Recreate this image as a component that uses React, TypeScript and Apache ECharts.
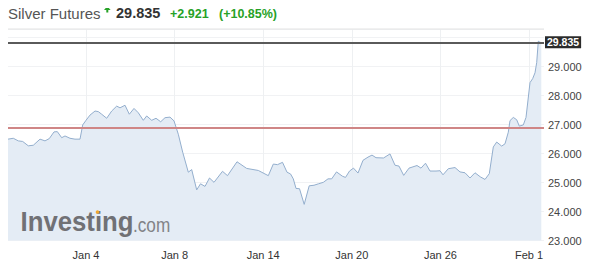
import React, { useEffect, useRef } from "react";
import * as echarts from "echarts";

// x positions in trading-day units (Jan 4 = 4, Jan 8 = 8, ... Feb 1 = 24)
const PX0 = 86;
const PX_PER_DAY = 22.15;
// traced x positions and prices
const tracePx = [
  8, 13.3, 18.3, 22.7, 28.3, 33.3, 40, 45, 49.3, 54, 57.3, 61.7, 65, 70, 75, 80, 82.7, 86, 90, 95,
  98.3, 101.7, 106.7, 111.7, 116.7, 120, 125, 129.3, 134, 138.3, 143.3, 146.7, 151.7, 156, 160.7, 165,
  170, 174, 178.3, 182.7, 188.3, 191.7, 196.7, 200.5, 205, 209.5, 214, 222.5, 227.5, 237, 246.7, 258.3,
  268.3, 273.3, 277.5, 282.5, 287, 290.5, 293.3, 296, 299.5, 304.2, 309.2, 314, 318.5, 323.3, 328,
  331.7, 336.5, 342.5, 345.5, 349.5, 353.5, 358, 363, 368, 372, 376, 383.5, 390, 395, 399, 403.7, 409,
  417, 421, 425.5, 430, 436, 440, 443, 448.3, 455, 460, 465, 470, 475, 480.3, 485, 489.3, 493.3, 496.7,
  501.7, 505, 508.3, 510, 513.3, 516.7, 519.3, 523.3, 526, 530, 532.7, 535, 536.7, 538.3, 540, 541.3,
];
const prices = [
  26.5, 26.53, 26.44, 26.42, 26.27, 26.29, 26.5, 26.44, 26.52, 26.75, 26.76, 26.55, 26.61, 26.53, 26.5,
  26.5, 26.99, 27.15, 27.33, 27.47, 27.45, 27.36, 27.22, 27.47, 27.64, 27.58, 27.67, 27.36, 27.56, 27.41,
  27.15, 27.3, 27.15, 27.22, 27.1, 27.24, 27.26, 27.13, 26.67, 26.05, 25.36, 25.45, 24.75, 24.96, 24.87,
  25.16, 25.01, 25.39, 25.24, 25.72, 25.49, 25.42, 25.24, 25.64, 25.62, 25.7, 25.36, 25.3, 25.13, 24.8,
  24.79, 24.25, 24.89, 24.91, 24.96, 25.01, 25.13, 25.13, 25.37, 25.22, 25.18, 25.4, 25.5, 25.33, 25.77,
  25.88, 25.95, 25.86, 25.85, 25.99, 25.6, 25.57, 25.25, 25.5, 25.59, 25.5, 25.67, 25.4, 25.4, 25.41,
  25.27, 25.48, 25.52, 25.37, 25.34, 25.16, 25.34, 25.2, 25.11, 25.31, 26.23, 26.4, 26.26, 26.34, 26.74,
  27.14, 27.25, 27.17, 26.95, 26.99, 27.25, 28.45, 28.59, 28.79, 29.14, 29.88, 29.84, 29.835,
];
const tickPositions = [4, 8, 12, 16, 20, 24];
const tickLabels = ["Jan 4", "Jan 8", "Jan 14", "Jan 20", "Jan 26", "Feb 1"];
const lastPrice = 29.835;
const prevClose = 26.914;
const changeText = "+2.921";
const changePctText = "(+10.85%)";

const days = tracePx.map((p) => 4 + (p - PX0) / PX_PER_DAY);

export default function App() {
  const ref = useRef<HTMLDivElement>(null);
  useEffect(() => {
    if (!ref.current) return;
    const chart = echarts.init(ref.current, null, { renderer: "svg" });
    const data = days.map((d, i) => [d, prices[i]]);
    const green = "#27a227";
    const font = "Arial, 'Liberation Sans', sans-serif";
    chart.setOption({
      animation: false,
      grid: { left: 8, right: 46, top: 29, bottom: 27.4 },
      xAxis: {
        type: "value",
        min: 4 - (PX0 - 8) / PX_PER_DAY,
        max: 24 + (544 - 529) / PX_PER_DAY,
        axisLine: { show: false },
        axisTick: { show: false, customValues: tickPositions },
        axisLabel: {
          customValues: tickPositions,
          formatter: (v: number) => tickLabels[tickPositions.indexOf(Math.round(v))] ?? "",
          color: "#333",
          fontSize: 11,
          fontFamily: font,
          margin: 9,
        },
        splitLine: { show: true, lineStyle: { color: "#eef0f2", width: 1 } },
      },
      yAxis: {
        type: "value",
        position: "right",
        min: 23,
        max: 30.3,
        interval: 1,
        axisLine: { show: false },
        axisTick: { show: false },
        axisLabel: {
          formatter: (v: number) => (v >= 30 ? "" : v.toFixed(3)),
          color: "#444",
          fontSize: 11,
          fontFamily: font,
          margin: 4,
        },
        splitLine: { show: true, lineStyle: { color: "#f1f2f4", width: 1 } },
      },
      series: [
        {
          type: "line",
          data,
          symbol: "none",
          smooth: false,
          lineStyle: { color: "#93aecd", width: 1 },
          areaStyle: { color: "#e4ecf5", opacity: 1, origin: "start" },
          markLine: {
            silent: true,
            symbol: "none",
            data: [
              {
                yAxis: prevClose,
                lineStyle: { color: "#cf8686", width: 2, type: "solid" },
                label: { show: false },
              },
              {
                yAxis: lastPrice,
                lineStyle: { color: "#5a5a5a", width: 2, type: "solid" },
                label: {
                  show: true,
                  position: "end",
                  distance: 1,
                  formatter: lastPrice.toFixed(3),
                  backgroundColor: "#2b2b2b",
                  color: "#fff",
                  fontSize: 10.5,
                  fontWeight: "bold",
                  fontFamily: font,
                  padding: [1, 2, 0, 2],
                },
              },
            ],
          },
        },
      ],
      graphic: [
        { type: "rect", z: 100, shape: { x: 7, y: 28.5, width: 537, height: 1 }, style: { fill: "#e4e4e4" }, silent: true },
        { type: "rect", z: 100, shape: { x: 7, y: 29, width: 1, height: 212 }, style: { fill: "#e8e8e8" }, silent: true },
        {
          type: "text",
          z: 100,
          x: 8,
          y: 13,
          style: { text: "Silver Futures", fill: "#555", font: `15px ${font}`, verticalAlign: "middle" },
        },
        {
          type: "polygon",
          z: 100,
          shape: { points: [[104, 10], [107.3, 6.2], [110.6, 10], [108.3, 10], [108.3, 12.6], [106.3, 12.6], [106.3, 10]] },
          style: { fill: green },
        },
        {
          type: "text",
          z: 100,
          x: 116,
          y: 13,
          style: { text: lastPrice.toFixed(3), fill: "#333", font: `bold 14.5px ${font}`, verticalAlign: "middle" },
        },
        {
          type: "text",
          z: 100,
          x: 170,
          y: 13.5,
          style: { text: changeText, fill: green, font: `bold 12.5px ${font}`, verticalAlign: "middle" },
        },
        {
          type: "text",
          z: 100,
          x: 219,
          y: 13.5,
          style: { text: changePctText, fill: green, font: `bold 12.5px ${font}`, verticalAlign: "middle" },
        },
        {
          type: "text",
          z: 100,
          x: 20.5,
          y: 222,
          scaleX: 0.92,
          style: { text: "Investing", fill: "#707175", font: `bold 28px ${font}`, verticalAlign: "middle" },
        },
        {
          type: "text",
          z: 100,
          x: 133,
          y: 225,
          scaleX: 0.86,
          style: { text: ".com", fill: "#828387", font: `20px ${font}`, verticalAlign: "middle" },
        },
        { type: "circle", z: 101, shape: { cx: 97.5, cy: 212, r: 1.8 }, style: { fill: "#f0a830" } },
      ],
    });
    return () => chart.dispose();
  }, []);
  return <div ref={ref} style={{ width: 590, height: 268, margin: -8 }} />;
}
